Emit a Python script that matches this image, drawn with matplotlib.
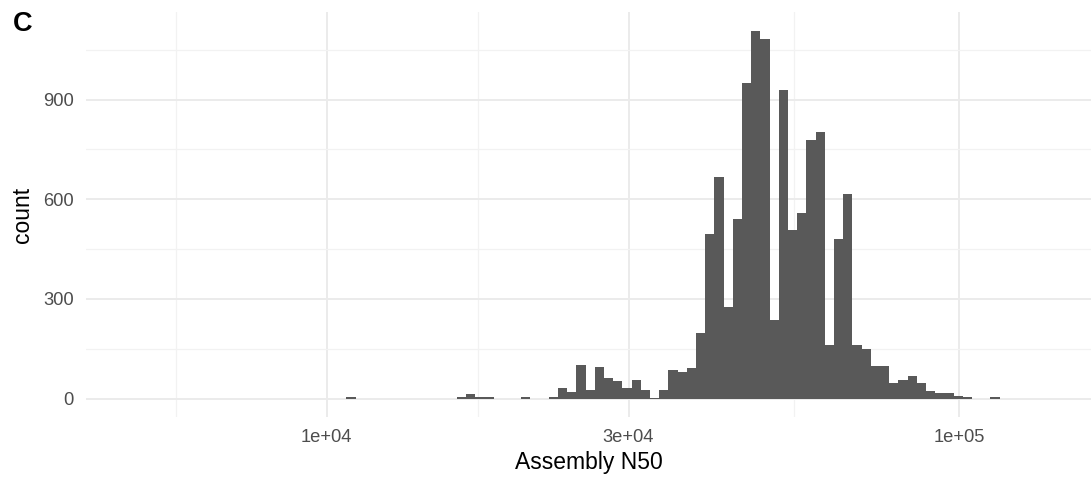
import matplotlib.pyplot as plt
import numpy as np

plt.rcParams['font.family'] = ['Liberation Sans', 'DejaVu Sans']

# histogram of assembly N50 (log10 bins), counts
log_bin_start = 4.03114      # log10 of the lower edge of the first bin
log_bin_width = 0.014543     # bin width in log10 units
counts = [
    4, 0, 0, 0, 0, 0, 0, 0, 0, 0, 0, 0,          # ~1.07e4 ..
    4, 15, 4, 4, 0, 0, 0, 4, 0, 0, 4,            # ~1.8e4 .. 2.6e4
    32, 21, 101, 26, 96, 62, 52, 32, 56, 26, 3,  # ~2.6e4 .. 3.3e4
    26, 86, 81, 91,
    198, 496, 666, 277, 539, 950, 1107, 1081, 237, 929,
    506, 559, 779, 801, 160, 481, 616, 160, 150, 99,
    99, 46, 56, 69, 47, 23, 17, 16, 7, 6,
    0, 0, 4,
]
x_breaks = [1e4, 3e4, 1e5]
x_labels = ['1e+04', '3e+04', '1e+05']
y_breaks = [0, 300, 600, 900]

edges = 10 ** (log_bin_start + log_bin_width * np.arange(len(counts) + 1))

fig = plt.figure(figsize=(10.91, 4.78), dpi=100)
ax = fig.add_axes([86 / 1091, 1 - 417 / 478, 1 - 86 / 1091, 405 / 478])

ax.stairs(counts, edges, fill=True, color='#595959', baseline=0)

ax.set_xscale('log')
ax.set_xlim(10 ** 3.6195, 10 ** (3.6195 + 1005 / 632.6))
ax.set_ylim(-55.4, 1163.4)

ax.set_xticks(x_breaks)
ax.set_xticklabels(x_labels)
ax.set_xticks([10 ** 3.7614, 10 ** 4.2386, 10 ** 4.7386], minor=True)
ax.set_xticklabels([], minor=True)
ax.set_yticks(y_breaks)
ax.set_yticks([150, 450, 750, 1050], minor=True)

ax.grid(which='major', color='#EBEBEB', linewidth=1.4)
ax.grid(which='minor', color='#F2F2F2', linewidth=0.9)
ax.set_axisbelow(True)
for s in ax.spines.values():
    s.set_visible(False)
ax.tick_params(which='both', length=0, labelsize=13.2, labelcolor='#4D4D4D')
ax.tick_params(axis='x', pad=9)
ax.tick_params(axis='y', pad=9)

ax.set_xlabel('Assembly N50', fontsize=16.5, labelpad=3)
ax.set_ylabel('count', fontsize=16.5, labelpad=6)

fig.text(0.012, 0.949, 'C', fontsize=19.5, fontweight='bold', ha='left', va='center')

fig.savefig('out.png', dpi=100)
